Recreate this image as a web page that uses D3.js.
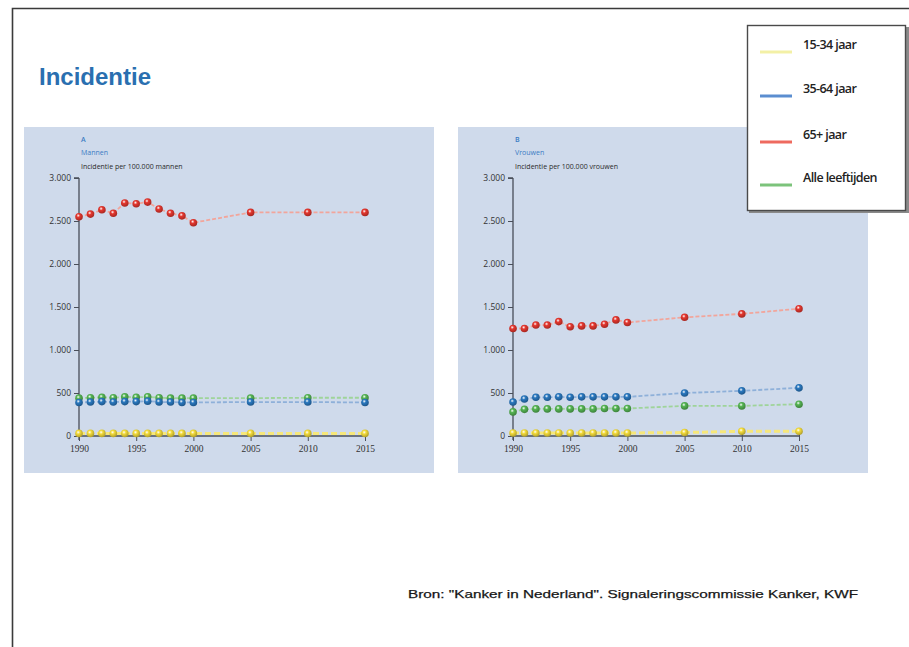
<!DOCTYPE html>
<html>
<head>
<meta charset="utf-8">
<script src="https://cdn.jsdelivr.net/npm/d3@7"></script>
<style>
  html, body { margin: 0; padding: 0; background: #ffffff; }
  svg { display: block; }
</style>
</head>
<body>
<svg id="chart" width="909" height="647"></svg>
<script>
// ---- data: incidence per 100.000 ----
const years = [1990, 1991, 1992, 1993, 1994, 1995, 1996, 1997, 1998, 1999, 2000, 2005, 2010, 2015];

const men15to34 = [30, 30, 30, 30, 30, 30, 30, 30, 30, 30, 30, 30, 30, 30];
const men35to64 = [390, 395, 400, 395, 400, 400, 405, 395, 395, 390, 390, 395, 395, 390];
const men65plus = [2550, 2580, 2630, 2590, 2710, 2700, 2720, 2640, 2590, 2560, 2480, 2600, 2600, 2600];
const menAll = [440, 445, 450, 445, 455, 450, 455, 445, 440, 440, 440, 440, 445, 445];

const women15to34 = [35, 35, 35, 35, 35, 35, 35, 35, 35, 35, 35, 40, 55, 55];
const women35to64 = [395, 430, 450, 450, 455, 450, 455, 455, 455, 455, 455, 500, 525, 560];
const women65plus = [1250, 1250, 1290, 1290, 1330, 1270, 1280, 1280, 1300, 1350, 1320, 1380, 1420, 1480];
const womenAll = [280, 310, 315, 315, 315, 315, 315, 315, 320, 320, 320, 350, 350, 370];

const yTicks = [0, 500, 1000, 1500, 2000, 2500, 3000];
const xTicks = [1990, 1995, 2000, 2005, 2010, 2015];

const seriesNames = ["15-34 jaar", "35-64 jaar", "65+ jaar", "Alle leeftijden"];

// colours per age group: marker, connecting line, legend swatch
const palette = {
  "15-34 jaar":      { dot: "#f4dc3c", line: "#f6e77a", legend: "#f3f0a6" },
  "35-64 jaar":      { dot: "#2a78bf", line: "#8eb0d9", legend: "#5b8ed0" },
  "65+ jaar":        { dot: "#e5372f", line: "#f2a59b", legend: "#ee6a5f" },
  "Alle leeftijden": { dot: "#55b553", line: "#9fd49a", legend: "#7cc37b" }
};

const nl = d3.formatLocale({ decimal: ",", thousands: ".", grouping: [3], currency: ["€", ""] });
const fmt = nl.format(",d");

const svg = d3.select("#chart");

// glossy sphere gradients for markers
const defs = svg.append("defs");
seriesNames.forEach((name, i) => {
  const g = defs.append("radialGradient")
    .attr("id", "ball" + i)
    .attr("cx", "40%").attr("cy", "35%").attr("r", "65%");
  g.append("stop").attr("offset", "0%").attr("stop-color", "#ffffff").attr("stop-opacity", 0.95);
  g.append("stop").attr("offset", "35%").attr("stop-color", palette[name].dot);
  g.append("stop").attr("offset", "100%").attr("stop-color", d3.color(palette[name].dot).darker(0.9));
});

// slide frame
svg.append("path")
  .attr("d", "M12.5,647 L12.5,8.5 L909,8.5")
  .attr("fill", "none").attr("stroke", "#3a3a3a").attr("stroke-width", 1.6);

// slide title
svg.append("text")
  .attr("x", 39).attr("y", 85)
  .attr("font-family", "Liberation Sans, Arial, sans-serif")
  .attr("font-weight", "bold").attr("font-size", 24)
  .attr("fill", "#2a6fb0")
  .text("Incidentie");

function drawPanel(left, top, letter, group, unitLabel, data) {
  const W = 410, H = 346;
  const g = svg.append("g").attr("transform", `translate(${left},${top})`);
  g.append("rect").attr("width", W).attr("height", H).attr("fill", "#cfdaeb");

  const x = d3.scaleLinear().domain([1990, 2015]).range([55, 341]);
  const y = d3.scaleLinear().domain([0, 3000]).range([309, 51]);

  // headings
  const hx = 57;
  g.append("text").attr("x", hx).attr("y", 15)
    .attr("font-family", "Open Sans, sans-serif").attr("font-size", 7).attr("font-weight", 600)
    .attr("fill", "#3b7cc4").text(letter);
  g.append("text").attr("x", hx).attr("y", 28)
    .attr("font-family", "Open Sans, sans-serif").attr("font-size", 7)
    .attr("fill", "#3b7cc4").text(group);
  g.append("text").attr("x", hx).attr("y", 42)
    .attr("font-family", "Open Sans, sans-serif").attr("font-size", 7)
    .attr("fill", "#2a2a2a").text(unitLabel);

  // y axis
  const yAxis = d3.axisLeft(y).tickValues(yTicks).tickFormat(fmt).tickSize(5).tickPadding(3);
  const ya = g.append("g").attr("transform", `translate(${x(1990)},0)`).call(yAxis);
  ya.select(".domain").attr("d", `M0,${y(3000)}H-5M0,${y(3000)}V${y(0) + 4}`)
    .attr("stroke", "#4a4f5a").attr("stroke-width", 1.3);
  ya.selectAll(".tick line").attr("stroke", "#4a4f5a");
  ya.selectAll(".tick text")
    .attr("font-family", "Open Sans, sans-serif").attr("font-size", 8.5)
    .attr("fill", "#333");

  // x axis
  const xAxis = d3.axisBottom(x).tickValues(xTicks).tickFormat(d3.format("d")).tickSize(5).tickPadding(4);
  const xa = g.append("g").attr("transform", `translate(0,${y(0)})`).call(xAxis);
  xa.select(".domain").attr("d", `M${x(1990)},0H${x(2015)}`)
    .attr("stroke", "#4a4f5a").attr("stroke-width", 1.3);
  xa.selectAll(".tick line").attr("stroke", "#4a4f5a").attr("y1", -4);
  xa.selectAll(".tick text")
    .attr("font-family", "Liberation Serif, serif").attr("font-size", 9.5)
    .attr("fill", "#333");

  const line = d3.line().x((d, i) => x(years[i])).y(d => y(d));

  // draw order: all ages, 35-64, 65+, then 15-34 on top of the axis
  const order = [3, 1, 2, 0];
  order.forEach(si => {
    const name = seriesNames[si];
    const vals = data[si];
    g.append("path").datum(vals)
      .attr("d", line)
      .attr("fill", "none")
      .attr("stroke", palette[name].line)
      .attr("stroke-width", si === 0 ? 3 : 1.8)
      .attr("stroke-dasharray", si === 0 ? "6,3" : "4,2");
    g.append("g").selectAll("circle").data(vals).join("circle")
      .attr("cx", (d, i) => x(years[i]))
      .attr("cy", d => y(d))
      .attr("r", 3.8)
      .attr("fill", `url(#ball${si})`);
  });
}

drawPanel(24, 127, "A", "Mannen", "Incidentie per 100.000 mannen",
  [men15to34, men35to64, men65plus, menAll]);
drawPanel(458, 127, "B", "Vrouwen", "Incidentie per 100.000 vrouwen",
  [women15to34, women35to64, women65plus, womenAll]);

// legend
const lg = svg.append("g");
lg.append("rect").attr("x", 749).attr("y", 27).attr("width", 160).attr("height", 186)
  .attr("fill", "#8a8a8a");
lg.append("rect").attr("x", 747.5).attr("y", 25.5).attr("width", 158).attr("height", 185)
  .attr("fill", "#ffffff").attr("stroke", "#4a4a4a").attr("stroke-width", 1.4);
const legendY = [52, 96, 142, 185];
seriesNames.forEach((name, i) => {
  lg.append("line")
    .attr("x1", 760).attr("x2", 792)
    .attr("y1", legendY[i]).attr("y2", legendY[i])
    .attr("stroke", palette[name].legend).attr("stroke-width", 3);
  lg.append("text")
    .attr("x", 803).attr("y", legendY[i] - 3)
    .attr("font-family", "Open Sans, sans-serif").attr("font-size", 12.5).attr("font-weight", 600)
    .attr("letter-spacing", -0.6)
    .attr("fill", "#222").text(name);
});

// source line
svg.append("text")
  .attr("x", 408).attr("y", 598)
  .attr("font-family", "Liberation Sans, Arial, sans-serif").attr("font-size", 11.5)
  .attr("textLength", 450).attr("lengthAdjust", "spacingAndGlyphs")
  .attr("stroke", "#222").attr("stroke-width", 0.25)
  .attr("fill", "#111")
  .text("Bron: \"Kanker in Nederland\". Signaleringscommissie Kanker, KWF");
</script>
</body>
</html>
